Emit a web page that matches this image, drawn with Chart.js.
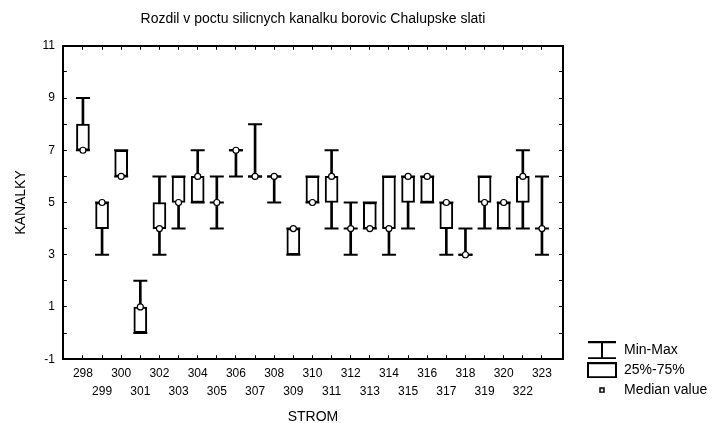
<!DOCTYPE html>
<html>
<head>
<meta charset="utf-8">
<script src="https://cdn.jsdelivr.net/npm/chart.js@4.4.0/dist/chart.umd.min.js"></script>
<style>
  html, body { margin: 0; padding: 0; background: #fff; }
  #wrap { width: 712px; height: 423px; }
</style>
</head>
<body>
<div id="wrap"><canvas id="chart"></canvas></div>
<script>
// stromy (kategorie osy X)
const stromy = ['298', '299', '300', '301', '302', '303', '304', '305', '306', '307', '308', '309', '310',
    '311', '312', '313', '314', '315', '316', '317', '318', '319', '320', '322', '323'];

// pocty kanalku
const minima    = [7, 3, 6, 0, 3, 4, 5, 4, 6, 6, 5, 3, 5, 4, 3, 4, 3, 4, 5, 3, 3, 4, 4, 4, 3];
const kvartil25 = [7, 4, 6, 0, 4, 5, 5, 5, 7, 6, 6, 3, 5, 5, 4, 4, 4, 5, 5, 4, 3, 5, 4, 5, 4];
const mediany   = [7, 5, 6, 1, 4, 5, 6, 5, 7, 6, 6, 4, 5, 6, 4, 4, 4, 6, 6, 5, 3, 5, 5, 6, 4];
const kvartil75 = [8, 5, 7, 1, 5, 6, 6, 5, 7, 6, 6, 4, 6, 6, 4, 5, 6, 6, 6, 5, 3, 6, 5, 6, 4];
const maxima    = [9, 5, 7, 2, 6, 6, 7, 6, 7, 8, 6, 4, 6, 7, 5, 5, 6, 6, 6, 5, 4, 6, 5, 7, 6];

// popisky osy Y
const yPopisky = [-1, 1, 3, 5, 7, 9, 11];

const pismo = "'Liberation Sans', Arial, sans-serif";
Chart.defaults.font.family = pismo;
Chart.defaults.color = '#000';

// ikonky do legendy
function ikona(w, h, kresli) {
    const c = document.createElement('canvas');
    c.width = w;
    c.height = h;
    const g = c.getContext('2d');
    g.strokeStyle = '#000';
    kresli(g);
    return c;
}
const ikonaMinMax = ikona(30, 18, g => {
    g.lineWidth = 2;
    g.beginPath();
    g.moveTo(1, 1); g.lineTo(29, 1);
    g.moveTo(15, 1); g.lineTo(15, 17);
    g.moveTo(1, 17); g.lineTo(29, 17);
    g.stroke();
});
const ikonaKrabice = ikona(30, 16, g => {
    g.lineWidth = 2;
    g.strokeRect(1, 1, 28, 14);
});
const ikonaMedian = ikona(6, 6, g => {
    g.lineWidth = 1.5;
    g.strokeRect(1, 1, 4, 4);
});

const body = (hodnoty) => hodnoty.map((v, i) => ({ x: i, y: v }));
const pozice = stromy.map((_, i) => ({ value: i }));

// posunuti legendy dolu pod uroven grafu
const posunLegendy = {
    id: 'posunLegendy',
    afterLayout(chart) {
        chart.legend.top += 44;
        chart.legend.bottom += 44;
    }
};

const osaX = {
    type: 'linear',
    min: -1.05,
    max: 25.1,
    offset: false,
    afterBuildTicks: axis => { axis.ticks = pozice.map(t => ({ value: t.value })); },
    border: { color: '#000', width: 2 },
    grid: { drawOnChartArea: false, offset: false, tickLength: -4, color: '#000', lineWidth: 1 }
};

new Chart(document.getElementById('chart').getContext('2d'), {
    type: 'bar',
    data: {
        datasets: [{
            label: 'Min-Max',
            type: 'bar',
            data: stromy.map((_, i) => ({ x: i, y: [minima[i], maxima[i]] })),
            backgroundColor: '#000',
            borderWidth: 0,
            barThickness: 2,
            grouped: false,
            order: 5
        }, {
            label: '25%-75%',
            type: 'bar',
            data: stromy.map((_, i) => ({ x: i, y: [kvartil25[i], kvartil75[i]] })),
            backgroundColor: '#fff',
            borderColor: '#000',
            borderWidth: 2,
            borderSkipped: false,
            barThickness: 13,
            grouped: false,
            order: 4
        }, {
            label: 'Min-Max konce',
            type: 'scatter',
            data: body(minima).concat(body(maxima)),
            pointStyle: 'line',
            pointRadius: 7,
            borderColor: '#000',
            borderWidth: 2,
            order: 3
        }, {
            // krabice s nulovou vyskou se kresli jen jako cara
            label: 'ploche krabice',
            type: 'scatter',
            data: body(kvartil25).filter((p, i) => kvartil25[i] === kvartil75[i]),
            pointStyle: 'line',
            pointRadius: 7,
            borderColor: '#000',
            borderWidth: 2,
            order: 2
        }, {
            label: 'Median value',
            type: 'scatter',
            data: body(mediany),
            pointStyle: 'circle',
            pointRadius: 3,
            backgroundColor: '#fff',
            borderColor: '#000',
            borderWidth: 1.2,
            order: 1
        }]
    },
    options: {
        responsive: true,
        maintainAspectRatio: false,
        animation: false,
        events: [],
        layout: { padding: { left: 0, right: 4, top: 0, bottom: 0 } },
        plugins: {
            tooltip: { enabled: false },
            title: {
                display: true,
                text: 'Rozdil v poctu silicnych kanalku borovic Chalupske slati',
                fullSize: false,
                font: { size: 14, weight: 'normal' },
                color: '#000',
                padding: { top: 10.6, bottom: 8 }
            },
            legend: {
                position: 'right',
                align: 'end',
                fullSize: false,
                maxWidth: 127,
                labels: {
                    usePointStyle: true,
                    pointStyleWidth: 30,
                    padding: 6,
                    font: { size: 14 },
                    color: '#000',
                    generateLabels: () => [
                        { text: 'Min-Max', pointStyle: ikonaMinMax, fillStyle: '#fff', strokeStyle: '#000', lineWidth: 0, hidden: false, datasetIndex: 0, fontColor: '#000' },
                        { text: '25%-75%', pointStyle: ikonaKrabice, fillStyle: '#fff', strokeStyle: '#000', lineWidth: 0, hidden: false, datasetIndex: 1, fontColor: '#000' },
                        { text: 'Median value', pointStyle: ikonaMedian, fillStyle: '#fff', strokeStyle: '#000', lineWidth: 0, hidden: false, datasetIndex: 4, fontColor: '#000' }
                    ]
                }
            }
        },
        scales: {
            x: Object.assign({}, osaX, {
                position: 'bottom',
                ticks: {
                    autoSkip: false,
                    maxRotation: 0,
                    padding: 9,
                    font: { size: 12, lineHeight: 1.5 },
                    callback: v => {
                        const i = Math.round(v);
                        return i % 2 === 0 ? [stromy[i], ''] : ['', stromy[i]];
                    }
                },
                title: {
                    display: true,
                    text: 'STROM',
                    font: { size: 14 },
                    padding: { top: 0, bottom: -3 }
                }
            }),
            x2: Object.assign({}, osaX, {
                position: 'top',
                ticks: { padding: 0, callback: () => '' }
            }),
            y: {
                type: 'linear',
                position: 'left',
                min: -1,
                max: 11,
                ticks: {
                    stepSize: 1,
                    padding: 12,
                    font: { size: 12 },
                    callback: v => yPopisky.includes(v) ? String(v) : ''
                },
                border: { color: '#000', width: 2 },
                grid: { drawOnChartArea: false, tickLength: -4, color: '#000', lineWidth: 1 },
                title: {
                    display: true,
                    text: 'KANALKY',
                    font: { size: 14 },
                    padding: { top: 12.6, bottom: 1 }
                }
            },
            y2: {
                type: 'linear',
                position: 'right',
                min: -1,
                max: 11,
                ticks: { stepSize: 1, padding: 11, callback: () => '' },
                border: { color: '#000', width: 2 },
                grid: { drawOnChartArea: false, tickLength: -4, color: '#000', lineWidth: 1 }
            }
        }
    },
    plugins: [posunLegendy]
});
</script>
</body>
</html>
